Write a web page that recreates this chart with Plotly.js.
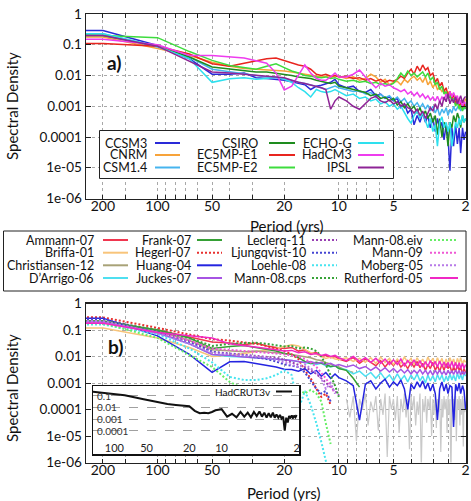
<!DOCTYPE html>
<html><head><meta charset="utf-8">
<script src="https://cdn.plot.ly/plotly-3.0.1.min.js"></script>
<style>html,body{margin:0;padding:0;background:#fff}#chart{width:471px;height:501px}</style>
</head><body><div id="chart"></div>
<script>
// ---------- shared period grid (years) ----------
const periods = [300, 200, 100, 66.7, 50, 40, 33.3, 28.6, 25, 22.2,
  20, 18.2, 16.7, 15.4, 14.3, 13.3, 12.5, 11.8, 11.1, 10.5,
  10,
  9.09, 8.33, 7.69, 7.14, 6.67, 6.25, 5.88, 5.56, 5.26, 5.0,
  4.76, 4.55, 4.35, 4.17, 4.0, 3.85, 3.7, 3.57, 3.45, 3.33,
  3.23, 3.13, 3.03, 2.94, 2.86, 2.78, 2.7, 2.63, 2.56, 2.5,
  2.44, 2.38, 2.33, 2.27, 2.22, 2.17, 2.13, 2.08, 2.04, 2.0];

// ---------- panel a: models ----------
const ccsm3 = [0.29, 0.29, 0.095, 0.035, 0.011, 0.011, 0.012, 0.0085, 0.008, 0.0075,
  0.007, 0.0062, 0.0055, 0.005, 0.0035, 0.0045, 0.0048, 0.0055, 0.006, 0.0075,
  0.005,
  0.004, 0.0045, 0.003, 0.0028, 0.0035, 0.0022, 0.0025, 0.0018, 0.002, 0.0015,
  0.0018, 0.0009, 0.0012, 0.0006, 0.0008, 0.00025, 0.0005, 0.0003, 0.0006, 0.0003,
  0.0005, 0.0002, 0.0004, 0.00015, 0.0004, 0.0002, 0.0003, 8e-5, 0.00025, 0.0001,
  8e-6, 0.0002, 5e-5, 0.00025, 6e-5, 0.0002, 3e-5, 0.0002, 8e-5, 0.00015];
const cnrm = [0.18, 0.18, 0.075, 0.045, 0.027, 0.02, 0.017, 0.016, 0.016, 0.015,
  0.014, 0.013, 0.012, 0.011, 0.010, 0.0095, 0.009, 0.0095, 0.0085, 0.01,
  0.0095,
  0.008, 0.009, 0.007, 0.008, 0.011, 0.009, 0.006, 0.0075, 0.005, 0.006,
  0.0065, 0.005, 0.0075, 0.006, 0.008, 0.0095, 0.007, 0.0085, 0.006, 0.009,
  0.005, 0.0065, 0.004, 0.0055, 0.0035, 0.004, 0.003, 0.0035, 0.0022, 0.003,
  0.002, 0.0025, 0.0015, 0.0022, 0.0012, 0.0018, 0.001, 0.0015, 0.0012, 0.0018];
const csm14 = [0.23, 0.23, 0.085, 0.04, 0.016, 0.013, 0.011, 0.01, 0.009, 0.0085,
  0.008, 0.007, 0.006, 0.0055, 0.005, 0.0045, 0.004, 0.0035, 0.004, 0.0045,
  0.004,
  0.0035, 0.003, 0.0032, 0.0025, 0.0028, 0.002, 0.0024, 0.0019, 0.0022, 0.0016,
  0.002, 0.0014, 0.0018, 0.0012, 0.0015, 0.001, 0.0013, 0.0009, 0.0012, 0.0008,
  0.0011, 0.0007, 0.001, 0.0006, 0.0009, 0.0005, 0.0008, 0.0006, 0.0009, 0.0005,
  0.0008, 0.0006, 0.001, 0.0007, 0.0009, 0.0011, 0.0007, 0.001, 0.0008, 0.0012];
const csiro = [0.2, 0.2, 0.09, 0.04, 0.019, 0.016, 0.014, 0.013, 0.013, 0.012,
  0.011, 0.01, 0.009, 0.0085, 0.008, 0.007, 0.0065, 0.006, 0.0055, 0.006,
  0.0045,
  0.004, 0.0035, 0.003, 0.0028, 0.0022, 0.0025, 0.0018, 0.002, 0.0015, 0.0018,
  0.0011, 0.0014, 0.0009, 0.0012, 0.0008, 0.001, 0.0006, 0.0009, 0.0005, 0.0007,
  0.0004, 0.0006, 0.0003, 0.0005, 0.00012, 0.0004, 0.0001, 0.0003, 0.0002, 5e-5,
  0.0003, 0.0002, 0.0005, 0.0003, 0.0006, 0.0004, 0.0002, 0.0005, 0.0003, 0.0004];
const ec5e1 = [0.11, 0.11, 0.09, 0.05, 0.024, 0.02, 0.025, 0.03, 0.035, 0.037,
  0.03, 0.026, 0.022, 0.02, 0.016, 0.011, 0.01, 0.011, 0.0095, 0.01,
  0.009,
  0.0095, 0.008, 0.0085, 0.007, 0.008, 0.0065, 0.0075, 0.006, 0.007, 0.0065,
  0.0075, 0.0095, 0.008, 0.012, 0.016, 0.011, 0.02, 0.014, 0.022, 0.015,
  0.018, 0.01, 0.012, 0.006, 0.008, 0.0045, 0.006, 0.003, 0.004, 0.0022,
  0.003, 0.0018, 0.0025, 0.0012, 0.0018, 0.001, 0.0014, 0.0008, 0.0012, 0.0009];
const ec5e2 = [0.22, 0.2, 0.17, 0.06, 0.031, 0.021, 0.018, 0.016, 0.02, 0.024,
  0.018, 0.014, 0.012, 0.01, 0.0095, 0.009, 0.0085, 0.009, 0.008, 0.0085,
  0.0075,
  0.0065, 0.007, 0.006, 0.0065, 0.0055, 0.006, 0.005, 0.0055, 0.0048, 0.0055,
  0.008, 0.012, 0.009, 0.014, 0.01, 0.012, 0.009, 0.011, 0.013, 0.009,
  0.012, 0.007, 0.009, 0.005, 0.006, 0.0035, 0.0045, 0.0025, 0.003, 0.0018,
  0.0022, 0.0015, 0.0018, 0.001, 0.0014, 0.0008, 0.0011, 0.0007, 0.001, 0.0008];
const echog = [0.23, 0.23, 0.09, 0.035, 0.006, 0.0079, 0.0085, 0.0075, 0.008, 0.009,
  0.0075, 0.006, 0.004, 0.003, 0.002, 0.0035, 0.003, 0.0028, 0.003, 0.0035,
  0.003,
  0.0022, 0.0025, 0.0018, 0.002, 0.0015, 0.0017, 0.0012, 0.0014, 0.001, 0.0012,
  0.0008, 0.001, 0.0006, 0.0004, 0.00028, 0.0005, 0.0007, 0.0004, 0.0006, 0.0003,
  0.0002, 0.0004, 0.00015, 0.00025, 5e-5, 0.0003, 0.00045, 0.0002, 0.0003, 0.00015,
  0.0003, 5e-5, 0.00012, 0.0003, 0.0002, 0.0004, 0.00025, 0.0005, 0.0003, 0.0004];
const hadcm3 = [0.15, 0.15, 0.1, 0.045, 0.045, 0.04, 0.037, 0.03, 0.025, 0.012,
  0.0034, 0.0045, 0.01, 0.022, 0.012, 0.008, 0.007, 0.007, 0.009, 0.012,
  0.009,
  0.009, 0.011, 0.015, 0.009, 0.006, 0.004, 0.0055, 0.0045, 0.005, 0.004,
  0.0035, 0.003, 0.0035, 0.0025, 0.003, 0.0022, 0.0028, 0.002, 0.0025, 0.0018,
  0.0022, 0.0016, 0.002, 0.0015, 0.0021, 0.0014, 0.002, 0.0016, 0.0025, 0.0018,
  0.003, 0.002, 0.0028, 0.0018, 0.0022, 0.0012, 0.0016, 0.001, 0.0014, 0.0012];
const ipsl = [0.2, 0.2, 0.09, 0.03, 0.013, 0.012, 0.011, 0.01, 0.0095, 0.009,
  0.0085, 0.007, 0.006, 0.0055, 0.005, 0.0045, 0.004, 0.0035, 0.0008, 0.0015,
  0.002,
  0.0015, 0.001, 0.0008, 0.0012, 0.0018, 0.0021, 0.0015, 0.0013, 0.0016, 0.0012,
  0.0014, 0.001, 0.0012, 0.0009, 0.0008, 0.0006, 0.0008, 0.0005, 0.0007, 0.0004,
  0.0006, 0.0009, 0.0007, 0.0012, 0.0008, 0.0015, 0.001, 0.002, 0.0014, 0.0025,
  0.0012, 0.0018, 0.0013, 0.002, 0.0012, 0.0016, 0.0022, 0.0013, 0.0018, 0.0021];

const modelNames = ['CCSM3', 'CNRM', 'CSM1.4', 'CSIRO', 'EC5MP-E1', 'EC5MP-E2', 'ECHO-G', 'HadCM3', 'IPSL'];
const modelColors = ['#2a2ad8', '#f7a33a', '#46b4ee', '#1e8c1e', '#e8251f', '#3ddc3d', '#2ee0ee', '#ee3cee', '#8e2496'];
const modelValues = [ccsm3, cnrm, csm14, csiro, ec5e1, ec5e2, echog, hadcm3, ipsl];

// ---------- panel b: reconstructions ----------
const ammann = [0.2, 0.2, 0.1, 0.056, 0.035, 0.032, 0.028, 0.032, 0.025, 0.022,
  0.02, 0.022, 0.016, 0.018, 0.013, 0.014, 0.01, 0.011, 0.009, 0.01,
  0.008,
  0.0065, 0.009, 0.0055, 0.008, 0.006, 0.0045, 0.007, 0.004, 0.0065, 0.0045,
  0.007, 0.004, 0.0055, 0.0035, 0.006, 0.004, 0.0065, 0.0038, 0.0055, 0.003,
  0.005, 0.0035, 0.006, 0.003, 0.0045, 0.0028, 0.005, 0.003, 0.0055, 0.0035,
  0.0045, 0.0025, 0.004, 0.0028, 0.0048, 0.003, 0.004, 0.0022, 0.0035, 0.0025];
const briffa = [0.12, 0.12, 0.05, 0.022, 0.01, 0.011, 0.013, 0.015, 0.018, 0.02,
  0.024, 0.028, 0.025, 0.018, 0.014, 0.012, 0.01, 0.0085, 0.0095, 0.008,
  0.0075,
  0.009, 0.0065, 0.0085, 0.006, 0.009, 0.0055, 0.0095, 0.006, 0.0085, 0.005,
  0.008, 0.0055, 0.0095, 0.006, 0.0085, 0.005, 0.009, 0.0055, 0.008, 0.005,
  0.0095, 0.006, 0.0085, 0.005, 0.009, 0.0055, 0.0085, 0.0045, 0.008, 0.005,
  0.009, 0.0055, 0.008, 0.0045, 0.0085, 0.0055, 0.009, 0.005, 0.0075, 0.006];
const christiansen = [0.22, 0.22, 0.09, 0.04, 0.018, 0.016, 0.015, 0.016, 0.015, 0.014,
  0.013, 0.012, 0.011, 0.01, 0.009, 0.0075, 0.007, 0.006, 0.005, 0.0045,
  0.004, 0.003, 0.0025];
const darrigo = [0.2, 0.2, 0.075, 0.03, 0.012, 0.01, 0.0095, 0.009, 0.0085, 0.008,
  0.0075, 0.007, 0.0065, 0.006, 0.0055, 0.005, 0.0055, 0.0045, 0.004, 0.0045,
  0.0035,
  0.0032, 0.0022, 0.0028, 0.0018, 0.0025, 0.0015, 0.0024, 0.0014, 0.002, 0.0012,
  0.0022, 0.0013, 0.0019, 0.0011, 0.002, 0.0013, 0.0022, 0.0012, 0.0018, 0.001,
  0.002, 0.0012, 0.0019, 0.0011, 0.0021, 0.0013, 0.002, 0.0011, 0.0018, 0.0012,
  0.0022, 0.0013, 0.002, 0.0012, 0.0024, 0.0014, 0.0021, 0.0013, 0.0025, 0.0018];
const frank = [0.22, 0.22, 0.1, 0.05, 0.02, 0.024, 0.026, 0.022, 0.018, 0.016,
  0.013, 0.012, 0.009, 0.0065, 0.0055, 0.006, 0.0055, 0.005, 0.0042, 0.0045,
  0.0035, 0.003, 0.0015, 0.0007];
const hegerl = [0.3, 0.3, 0.12, 0.07, 0.045, 0.04, 0.035, 0.03, 0.025, 0.02,
  0.016, 0.012, 0.008, 0.003, 0.0015, 0.0006, 0.0003, 0.0004, 0.00015];
const huang = [0.28, 0.28, 0.06, 0.012, 0.0025, 0.0063, 0.0065, 0.0055, 0.0045, 0.004,
  0.0033, 0.0032, 0.0028, 0.0035, 0.0022, 0.003, 0.0018, 0.0025, 0.0015, 0.0022,
  0.0016,
  0.0012, 0.0008, 4e-5, 0.0009, 0.0012, 0.0006, 0.001, 0.0014, 0.0007, 0.0011,
  0.0008, 0.0013, 0.0006, 0.0001, 0.0009, 0.0006, 0.0011, 0.0007, 0.0012, 0.0006,
  0.001, 0.0005, 0.0009, 0.0004, 4e-5, 0.0006, 0.0011, 0.0005, 0.0009, 0.0004,
  0.0008, 0.0007, 2.2e-5, 0.0009, 0.0005, 0.001, 0.0004, 0.0008, 0.0005, 0.0001];
const juckes = [0.2, 0.2, 0.08, 0.03, 0.012, 0.011, 0.0095, 0.009, 0.0085, 0.008,
  0.0075, 0.007, 0.0065, 0.006, 0.0065, 0.0055, 0.006, 0.005, 0.0055, 0.0045,
  0.005,
  0.004, 0.0048, 0.0035, 0.0042, 0.003, 0.004, 0.0028, 0.0038, 0.0026, 0.0035,
  0.0025, 0.0033, 0.0024, 0.0032, 0.0022, 0.003, 0.0023, 0.0032, 0.0022, 0.003,
  0.0021, 0.0029, 0.002, 0.003, 0.0022, 0.0031, 0.0021, 0.0028, 0.002, 0.003,
  0.0022, 0.0029, 0.0021, 0.0031, 0.0022, 0.003, 0.002, 0.0028, 0.0021, 0.0027];
const leclerq = [0.25, 0.25, 0.09, 0.04, 0.015, 0.013, 0.012, 0.011, 0.01, 0.009,
  0.0075, 0.006, 0.005, 0.004, 0.003, 0.0022, 0.0015, 0.001, 0.0007, 0.0005, 0.00035];
const ljungqvist = [0.25, 0.25, 0.085, 0.035, 0.015, 0.012, 0.011, 0.0095, 0.008, 0.0065,
  0.005, 0.0045, 0.004, 0.0025, 0.0012, 0.0006, 0.0004, 0.0005, 0.0002];
const loehle = [0.16, 0.16, 0.07, 0.02, 0.006, 0.0017, 0.0013, 0.0013, 0.0015, 0.002,
  0.003, 0.002, 0.0001, 0.0005, 0.00015, 3e-5, 6e-6, 1e-6, 2e-7];
const mann08cps = [0.22, 0.22, 0.1, 0.05, 0.025, 0.03, 0.032, 0.033, 0.03, 0.026,
  0.024, 0.025, 0.02, 0.022, 0.02, 0.016, 0.01, 0.005, 0.002, 0.0008, 0.0003];
const mann08eiv = [0.18, 0.18, 0.05, 0.011, 0.004, 0.0011, 0.0006, 0.0004, 0.0005, 0.0006,
  0.0004, 0.0005, 0.0006, 0.0004, 0.00055, 0.0004, 0.0002, 3e-5, 5e-6];
const mann09 = [0.2, 0.2, 0.08, 0.04, 0.02, 0.018, 0.016, 0.015, 0.014, 0.013,
  0.012, 0.011, 0.01, 0.008, 0.006, 0.004, 0.0025, 0.0015, 0.0008, 0.0004];
const moberg = [0.22, 0.22, 0.075, 0.03, 0.014, 0.012, 0.011, 0.01, 0.009, 0.0075,
  0.006, 0.005, 0.004, 0.005, 0.0035, 0.0025, 0.0015, 0.0006, 0.001, 0.0004];
const rutherford = [0.18, 0.18, 0.08, 0.06, 0.05, 0.03, 0.025, 0.022, 0.02, 0.018,
  0.016, 0.017, 0.014, 0.015, 0.012, 0.013, 0.011, 0.012, 0.01, 0.011,
  0.009,
  0.007, 0.01, 0.0065, 0.009, 0.006, 0.0085, 0.0055, 0.008, 0.005, 0.0075,
  0.005, 0.008, 0.0045, 0.007, 0.0048, 0.0075, 0.0045, 0.007, 0.004, 0.0065,
  0.0042, 0.007, 0.0045, 0.0065, 0.004, 0.0068, 0.0042, 0.0062, 0.0038, 0.006,
  0.004, 0.0065, 0.0038, 0.006, 0.0035, 0.0058, 0.0036, 0.0055, 0.0035, 0.005];

const reconNames = ['Ammann-07', 'Briffa-01', 'Christiansen-12', 'D\u2019Arrigo-06',
  'Frank-07', 'Hegerl-07', 'Huang-04', 'Juckes-07',
  'Leclerq-11', 'Ljungqvist-10', 'Loehle-08', 'Mann-08.cps',
  'Mann-08.eiv', 'Mann-09', 'Moberg-05', 'Rutherford-05'];
const reconColors = ['#f0364f', '#f8c47a', '#a8a277', '#4fdff0',
  '#35a035', '#e8302f', '#2424e0', '#a653e3',
  '#9940b3', '#4545d2', '#48e4ef', '#37a337',
  '#66ee66', '#ef57d4', '#b77ae8', '#f028c4'];
const reconDotted = [false, false, false, false,
  false, true, false, false,
  true, true, true, true,
  true, true, true, false];
const reconValues = [ammann, briffa, christiansen, darrigo, frank, hegerl, huang, juckes,
  leclerq, ljungqvist, loehle, mann08cps, mann08eiv, mann09, moberg, rutherford];

// grey high-frequency spectrum (panel b background)
const greyPeriods = [9.09, 8.70, 8.33, 8.00, 7.69, 7.41, 7.14, 6.90, 6.67, 6.45,
  6.25, 6.06, 5.88, 5.71, 5.56, 5.41, 5.26, 5.13, 5.00, 4.88,
  4.76, 4.65, 4.55, 4.44, 4.35, 4.26, 4.17, 4.08, 4.00, 3.92,
  3.85, 3.77, 3.70, 3.64, 3.57, 3.51, 3.45, 3.39, 3.33, 3.28,
  3.23, 3.17, 3.13, 3.08, 3.03, 2.99, 2.94, 2.90, 2.86, 2.82,
  2.78, 2.74, 2.70, 2.67, 2.63, 2.60, 2.56, 2.53, 2.50, 2.47,
  2.44, 2.41, 2.38, 2.35, 2.33, 2.30, 2.27, 2.25, 2.22, 2.20,
  2.17, 2.15, 2.13, 2.11, 2.08, 2.06, 2.04, 2.02, 2.00];
const greyValues = [2.5e-4, 5e-5, 3.2e-4, 6.3e-6, 2.5e-4, 1e-4, 4e-4, 2.5e-5, 2e-4, 7.9e-5,
  3.2e-4, 1.6e-5, 2.5e-4, 6.3e-5, 4e-4, 1.6e-6, 3.2e-4, 1e-4, 2.5e-4, 4e-5,
  3.2e-4, 1.3e-5, 2.5e-4, 7.9e-5, 4e-4, 5e-5, 2.5e-4, 3.2e-6, 3.2e-4, 1e-4,
  3.2e-4, 2.5e-5, 2e-4, 6.3e-5, 4e-4, 6.3e-7, 2.5e-4, 7.9e-5, 3.2e-4, 3.2e-5,
  2.5e-4, 1e-4, 3.2e-4, 1e-5, 2.5e-4, 6.3e-5, 3.2e-4, 2e-5, 2.5e-4, 7.9e-5,
  4e-4, 2.5e-6, 2.5e-4, 5e-5, 3.2e-4, 1e-4, 2.5e-4, 1.3e-5, 3.2e-4, 6.3e-5,
  2.5e-4, 3.2e-7, 3.2e-4, 7.9e-5, 2.5e-4, 4e-5, 3.2e-4, 6.3e-6, 2.5e-4, 1e-4,
  3.2e-4, 2.5e-5, 2.5e-4, 6.3e-5, 3.2e-4, 4e-6, 2.5e-4, 7.9e-5, 2e-4];

// inset: HadCRUT3v
const hadPeriods = [160, 80, 53.3, 40, 32, 26.7, 22.9, 20, 17.8, 16,
  14.5, 13.3, 12.3, 11.4, 10.7, 10,
  8.89, 8.0, 7.27, 6.67, 6.15, 5.71, 5.33, 5.0,
  4.71, 4.44, 4.21, 4.0, 3.81, 3.64, 3.48, 3.33,
  3.2, 3.08, 2.96, 2.86, 2.76, 2.67, 2.58, 2.5,
  2.42, 2.35, 2.29, 2.22, 2.16, 2.11, 2.05, 2.0];
const hadValues = [0.22, 0.107, 0.05, 0.028, 0.019, 0.016, 0.014, 0.0126, 0.005, 0.0032,
  0.0035, 0.0032, 0.004, 0.0056, 0.0063, 0.007,
  0.0016, 0.0028, 0.0014, 0.004, 0.0016, 0.0035, 0.0014, 0.004,
  0.0018, 0.0045, 0.0016, 0.0035, 0.0013, 0.0032, 0.0014, 0.0035,
  0.0013, 0.0025, 0.0013, 0.0022, 0.0011, 0.0016, 0.0001, 0.0013,
  0.0005, 0.0018, 0.0013, 0.002, 0.0011, 0.002, 0.0014, 0.0022];

// ticks
const xTickVals = [200, 150, 100, 90, 80, 70, 60, 50, 40, 30, 20, 10, 9, 8, 7, 6, 5, 4, 3, 2.5, 2];
const xTickText = ['200', '', '100', '', '', '', '', '50', '', '', '20', '10', '', '', '', '', '5', '', '', '', '2'];
const yTickVals = [1, 0.1, 0.01, 0.001, 0.0001, 1e-5, 1e-6];
const yTickText = ['1', '0.1', '0.01', '0.001', '0.0001', '1e-05', '1e-06'];
const insetXVals = [100, 50, 20, 10, 2];
const insetXText = ['100', '50', '20', '10', '2'];
const insetYVals = [0.1, 0.01, 0.001, 0.0001];
const insetYText = ['0.1', '0.01', '0.001', '0.0001'];

// ---------- layout helpers ----------
const W = 471, H = 501;
const px = v => v / W;
const py = v => 1 - v / H;
const FONT = 'Lato, "Open Sans", sans-serif';

function xAxis(anchor) {
  return {
    type: 'log', range: [Math.log10(248), Math.log10(1.99)], domain: [px(86), px(466)], anchor: anchor,
    tickmode: 'array', tickvals: xTickVals, ticktext: xTickText,
    ticks: 'inside', ticklen: 4, tickcolor: '#222', tickwidth: 1, ticklabelstandoff: -6,
    showline: true, mirror: 'ticks', linecolor: '#222', linewidth: 1.5,
    showgrid: true, gridcolor: '#a8a8a8', griddash: 'dot', gridwidth: 1,
    zeroline: false, tickfont: { size: 14, color: '#111', family: FONT }, fixedrange: true
  };
}
function yAxis(anchor, top, bottom) {
  return {
    type: 'log', range: [-6, 0], domain: [py(bottom), py(top)], anchor: anchor,
    tickmode: 'array', tickvals: yTickVals, ticktext: yTickText,
    ticks: 'inside', ticklen: 5, tickcolor: '#222', tickwidth: 1,
    showline: true, mirror: 'ticks', linecolor: '#222', linewidth: 1.5,
    showgrid: true, gridcolor: '#a8a8a8', griddash: 'dot', gridwidth: 1,
    zeroline: false, tickfont: { size: 13.5, color: '#111', family: FONT }, fixedrange: true
  };
}

const traces = [];
modelValues.forEach((vals, k) => {
  traces.push({ x: periods, y: vals, xaxis: 'x', yaxis: 'y', type: 'scatter', mode: 'lines',
    line: { color: modelColors[k], width: 1.5 }, hoverinfo: 'skip', showlegend: false });
});
traces.push({ x: greyPeriods, y: greyValues, xaxis: 'x2', yaxis: 'y2', type: 'scatter', mode: 'lines',
  line: { color: '#c9c9c9', width: 1.2 }, hoverinfo: 'skip', showlegend: false });
reconValues.forEach((vals, k) => {
  traces.push({ x: periods, y: vals, xaxis: 'x2', yaxis: 'y2', type: 'scatter', mode: 'lines',
    line: { color: reconColors[k], width: reconDotted[k] ? 2 : 1.5, dash: reconDotted[k] ? '2px,2px' : 'solid' },
    hoverinfo: 'skip', showlegend: false });
});
traces.push({ x: hadPeriods, y: hadValues, xaxis: 'x3', yaxis: 'y3', type: 'scatter', mode: 'lines',
  line: { color: '#111', width: 2 }, hoverinfo: 'skip', showlegend: false });

const shapes = [];
const annotations = [];
function note(x, y, text, size, xanchor, extra) {
  return Object.assign({ xref: 'paper', yref: 'paper', x: px(x), y: py(y), xanchor: xanchor || 'center', yanchor: 'middle',
    text: text, showarrow: false, font: { size: size, color: '#111', family: FONT } }, extra || {});
}

// legend a
shapes.push({ type: 'rect', xref: 'paper', yref: 'paper', x0: px(99.5), x1: px(393.5), y0: py(178.5), y1: py(130.5),
  fillcolor: '#fff', line: { color: '#222', width: 1 }, layer: 'above' });
const legACols = [[149, 155, 180], [259.5, 269, 295], [354, 358, 384]];
const legARows = [143, 155, 167.5];
modelNames.forEach((name, k) => {
  const c = legACols[Math.floor(k / 3)], r = legARows[k % 3];
  annotations.push(note(c[0], r, name, 12.5, 'right'));
  shapes.push({ type: 'line', xref: 'paper', yref: 'paper', x0: px(c[1]), x1: px(c[2]), y0: py(r), y1: py(r),
    line: { color: modelColors[k], width: 2 }, layer: 'above' });
});

// legend b (middle box)
shapes.push({ type: 'rect', xref: 'paper', yref: 'paper', x0: px(3.5), x1: px(466), y0: py(291), y1: py(231),
  fillcolor: '#fff', line: { color: '#222', width: 1 }, layer: 'above' });
const legBCols = [[96, 103, 128], [193, 197, 222], [308, 312, 337], [425, 430, 458]];
const legBRows = [240, 252.7, 265.3, 278];
reconNames.forEach((name, k) => {
  const c = legBCols[Math.floor(k / 4)], r = legBRows[k % 4];
  annotations.push(note(c[0], r, name, 12.5, 'right'));
  shapes.push({ type: 'line', xref: 'paper', yref: 'paper', x0: px(c[1]), x1: px(c[2]), y0: py(r), y1: py(r),
    line: { color: reconColors[k], width: 2, dash: reconDotted[k] ? '2px,2px' : 'solid' }, layer: 'above' });
});

// inset y tick labels (drawn inside the inset, tied to the inset's y axis)
insetYVals.forEach((v, k) => {
  annotations.push({ xref: 'paper', yref: 'y3', x: px(94.5), y: Math.log10(v), xanchor: 'left', yanchor: 'middle',
    text: insetYText[k], showarrow: false, font: { size: 10, color: '#333', family: FONT } });
});

// inset legend
annotations.push(note(273, 391.5, 'HadCRUT3v', 10, 'right'));
shapes.push({ type: 'line', xref: 'paper', yref: 'paper', x0: px(276), x1: px(292), y0: py(391.5), y1: py(391.5),
  line: { color: '#111', width: 2 }, layer: 'above' });

// panel labels and titles
annotations.push(note(114, 63, '<b>a)</b>', 19));
annotations.push(note(115, 346, '<b>b)</b>', 19));
annotations.push(note(287, 226, 'Period (yrs)', 15));
annotations.push(note(284, 493, 'Period (yrs)', 15));
annotations.push(note(12, 106, 'Spectral Density', 15, 'center', { textangle: -90 }));
annotations.push(note(12, 388, 'Spectral Density', 15, 'center', { textangle: -90 }));

const layout = {
  width: W, height: H, margin: { l: 0, r: 0, t: 0, b: 0 },
  paper_bgcolor: '#fff', plot_bgcolor: '#fff', showlegend: false,
  font: { family: FONT, color: '#111' },
  xaxis: xAxis('y'), yaxis: yAxis('x', 14, 198.5),
  xaxis2: xAxis('y2'), yaxis2: yAxis('x2', 303.5, 462.5),
  xaxis3: {
    type: 'log', range: [Math.log10(158), Math.log10(1.9)], domain: [px(93), px(299)], anchor: 'y3',
    tickmode: 'array', tickvals: insetXVals, ticktext: insetXText, ticks: '',
    ticklabelstandoff: -17, showline: true, mirror: true, linecolor: '#111', linewidth: 1.5,
    showgrid: false, zeroline: false, tickfont: { size: 11, color: '#222', family: FONT }, fixedrange: true
  },
  yaxis3: {
    type: 'log', range: [-6, -0.17], domain: [py(454), py(386)], anchor: 'x3',
    tickmode: 'array', tickvals: insetYVals, ticks: '', showticklabels: false,
    showline: true, mirror: true, linecolor: '#111', linewidth: 1.5,
    showgrid: true, gridcolor: '#a0a0a0', griddash: 'dash', gridwidth: 1,
    zeroline: false, fixedrange: true
  },
  shapes: shapes, annotations: annotations
};

Plotly.newPlot('chart', traces, layout, { staticPlot: true, displayModeBar: false });
</script></body></html>
